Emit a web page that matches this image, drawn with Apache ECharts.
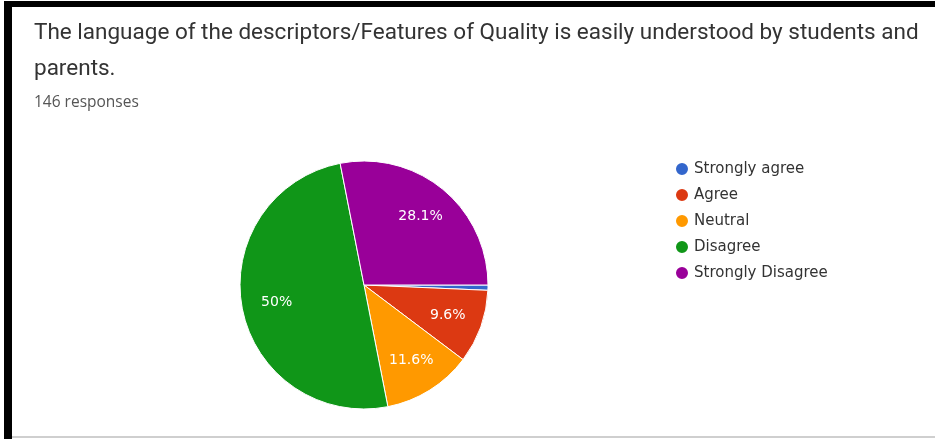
<!DOCTYPE html>
<html>
<head>
<meta charset="utf-8">
<script src="https://cdn.jsdelivr.net/npm/echarts@6/dist/echarts.min.js"></script>
<style>
  html, body { margin: 0; padding: 0; background: #fff; }
  #chart { width: 935px; height: 439px; }
</style>
</head>
<body>
<div id="chart"></div>
<script>
// Survey question, response count and answer breakdown
const questionText = 'The language of the descriptors/Features of Quality is easily understood by students and\nparents.';
const responsesText = '146 responses';
const categories = ['Strongly agree', 'Agree', 'Neutral', 'Disagree', 'Strongly Disagree'];
const counts = [1, 14, 17, 73, 41];
const colors = ['#3366cc', '#dc3912', '#ff9900', '#109618', '#990099'];

const pieData = categories.map((name, i) => ({ name, value: counts[i] }));

function pctLabel(p) {
  if (p.percent < 3) return '';
  return parseFloat(p.percent.toFixed(1)) + '%';
}

const chart = echarts.init(document.getElementById('chart'), null, { renderer: 'canvas' });
chart.setOption({
  animation: false,
  color: colors,
  title: [
    {
      text: questionText,
      left: 29, top: 10,
      textStyle: { fontFamily: 'Roboto', fontSize: 22.5, fontWeight: 'normal', color: '#333', lineHeight: 36 }
    },
    {
      text: responsesText,
      left: 29, top: 90,
      textStyle: { fontFamily: 'Open Sans', fontSize: 15.5, fontWeight: 'normal', color: '#555' }
    }
  ],
  legend: {
    orient: 'vertical',
    left: 669, top: 156,
    icon: 'circle',
    itemWidth: 14, itemHeight: 14,
    itemGap: 10,
    data: categories,
    textStyle: { fontFamily: 'DejaVu Sans', fontSize: 15, lineHeight: 16, color: '#333' }
  },
  graphic: [
    { type: 'rect', shape: { x: 4, y: 1, width: 931, height: 6 }, style: { fill: '#000' } },
    { type: 'rect', shape: { x: 4, y: 1, width: 8, height: 438 }, style: { fill: '#000' } },
    { type: 'rect', shape: { x: 12, y: 436, width: 923, height: 2 }, style: { fill: '#cfcfcf' } }
  ],
  series: [
    {
      type: 'pie',
      center: [364, 285],
      radius: 124,
      startAngle: 0,
      clockwise: true,
      data: pieData,
      itemStyle: { borderColor: '#fff', borderWidth: 1 },
      label: { show: false },
      labelLine: { show: false },
      emphasis: { disabled: true }
    },
    {
      // transparent ring used only to place the percentage labels
      type: 'pie',
      center: [364, 285],
      radius: [48, 124],
      startAngle: 0,
      clockwise: true,
      silent: true,
      legendHoverLink: false,
      data: pieData,
      itemStyle: { color: 'rgba(0,0,0,0)', borderWidth: 0 },
      label: {
        show: true,
        position: 'inside',
        formatter: pctLabel,
        color: '#fff',
        fontFamily: 'DejaVu Sans',
        fontSize: 14
      },
      labelLine: { show: false },
      emphasis: { disabled: true }
    }
  ]
});
</script>
</body>
</html>
